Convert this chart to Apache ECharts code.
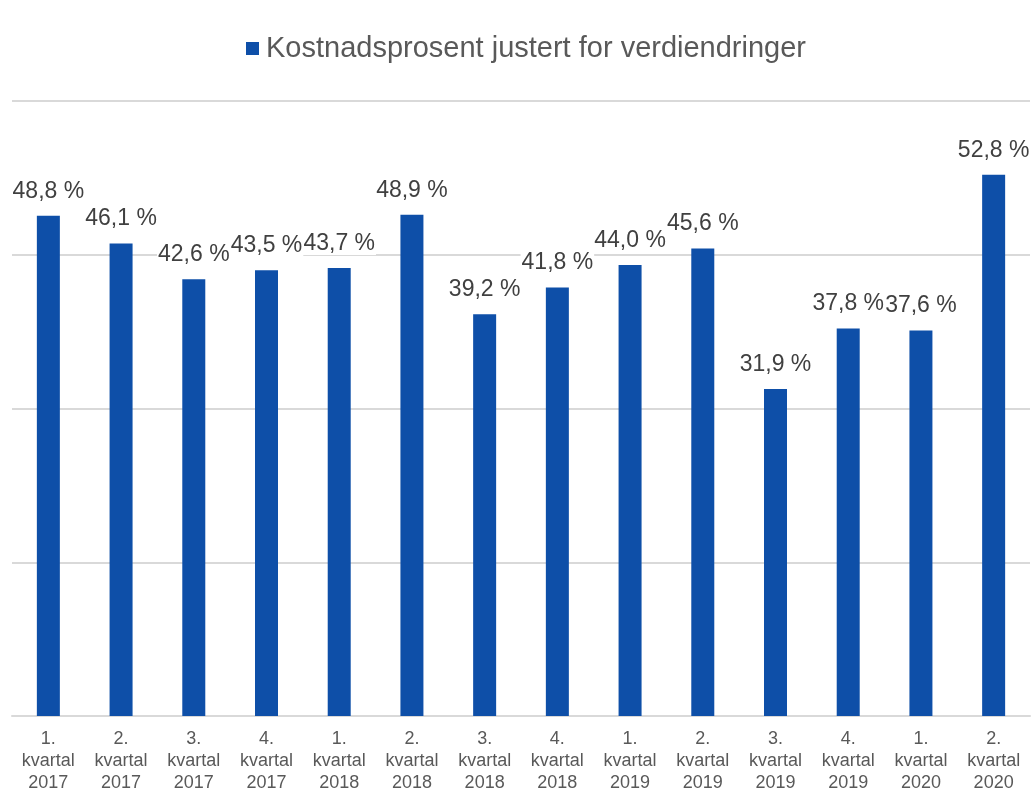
<!DOCTYPE html>
<html>
<head>
<meta charset="utf-8">
<script src="https://cdn.jsdelivr.net/npm/echarts@6/dist/echarts.min.js"></script>
<style>
  html, body { margin: 0; padding: 0; background: #fff; }
  #chart { width: 1031px; height: 794px; }
</style>
</head>
<body>
<div id="chart"></div>
<script>
// kategorier (kvartal) og verdier
let quarters = ['1.', '2.', '3.', '4.', '1.', '2.', '3.', '4.', '1.', '2.', '3.', '4.', '1.', '2.'];
let years = ['2017', '2017', '2017', '2017', '2018', '2018', '2018', '2018', '2019', '2019', '2019', '2019', '2020', '2020'];
let kostnadsprosent = [48.8, 46.1, 42.6, 43.5, 43.7, 48.9, 39.2, 41.8, 44.0, 45.6, 31.9, 37.8, 37.6, 52.8];
let seriesName = 'Kostnadsprosent justert for verdiendringer';

let categories = [];
quarters.forEach((q, i) => {
  categories.push(q + '\nkvartal\n' + years[i]);
});

let chart = echarts.init(document.getElementById('chart'));

chart.setOption({
  animation: false,
  textStyle: {
    fontFamily: 'Liberation Sans, Arial, sans-serif'
  },
  legend: {
    left: 241,
    top: 29,
    icon: 'rect',
    itemWidth: 13,
    itemHeight: 13,
    textStyle: {
      fontSize: 29,
      color: '#595959',
      padding: [0, 0, 0, 2]
    },
    data: [seriesName]
  },
  grid: {
    left: 12,
    right: 1,
    top: 101,
    bottom: 75
  },
  xAxis: {
    type: 'category',
    data: categories,
    axisLine: {
      lineStyle: { color: '#d9d9d9', width: 2 }
    },
    axisTick: { show: false },
    axisLabel: {
      color: '#595959',
      fontSize: 18,
      lineHeight: 22,
      margin: 12,
      interval: 0
    }
  },
  yAxis: {
    type: 'value',
    min: 0,
    max: 60,
    interval: 15,
    axisLabel: { show: false },
    axisLine: { show: false },
    axisTick: { show: false },
    splitLine: {
      lineStyle: { color: '#d9d9d9', width: 2 }
    }
  },
  series: [{
    name: seriesName,
    type: 'bar',
    data: kostnadsprosent,
    barWidth: 23,
    itemStyle: {
      color: '#0e4fa8'
    },
    label: {
      show: true,
      position: 'top',
      distance: 13,
      fontSize: 23,
      color: '#404040',
      backgroundColor: '#fff',
      padding: [0, 1],
      formatter: p => p.value.toFixed(1).replace('.', ',') + ' %'
    }
  }]
});
</script>
</body>
</html>
